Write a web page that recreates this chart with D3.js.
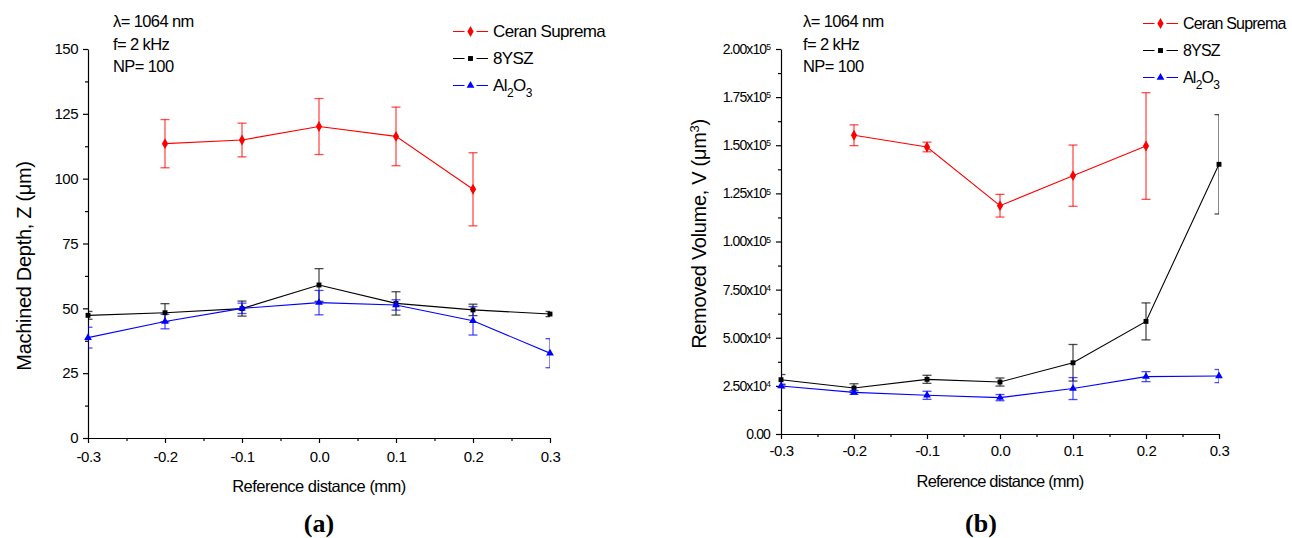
<!DOCTYPE html>
<html>
<head>
<meta charset="utf-8">
<script src="https://cdn.jsdelivr.net/npm/d3@7"></script>
<style>
  body { margin: 0; background: #fff; }
  svg { display: block; font-family: "Liberation Sans", Arial, sans-serif; }
  .tick text { font-family: "Liberation Sans", Arial, sans-serif; fill: #000; }
</style>
</head>
<body>
<svg id="chart" width="1292" height="538"></svg>
<script>
// reference positions along the beam axis (mm)
var xVals = [-0.3, -0.2, -0.1, 0.0, 0.1, 0.2, 0.3];
var xTicks = [-0.3, -0.2, -0.1, 0.0, 0.1, 0.2, 0.3];

// (a) machined depth, um
var depthCeran     = [null, 113.5, 114.9, 120.1, 116.3, 95.9, null];
var depthCeranErr  = [null, 9.3, 6.5, 10.8, 11.3, 14.1, null];
var depthYSZ       = [47.3, 48.3, 49.9, 59.0, 51.9, 49.4, 47.8];
var depthYSZErr    = [1.5, 3.5, 2.9, 6.3, 4.5, 2.2, 1.0];
var depthAl2O3     = [38.7, 44.9, 50.0, 52.2, 51.3, 45.2, 32.7];
var depthAl2O3Err  = [4.0, 2.8, 2.0, 4.7, 2.0, 5.5, 5.6];
var depthTicks = [0, 25, 50, 75, 100, 125, 150];

// (b) removed volume, um^3
var volCeran     = [null, 155200, 149100, 118600, 134200, 149600, null];
var volCeranErr  = [null, 5400, 2500, 5900, 15900, 27700, null];
var volYSZ       = [28200, 23900, 28400, 27000, 37000, 58500, 140100];
var volYSZErr    = [2700, 2200, 2100, 2100, 9500, 9600, 25800];
var volAl2O3     = [24900, 21600, 20100, 18900, 23600, 29800, 30100];
var volAl2O3Err  = [1000, 1000, 2100, 1600, 5700, 2600, 3400];
var volTicks = [0, 25000, 50000, 75000, 100000, 125000, 150000, 175000, 200000];

var seriesNames = ["Ceran Suprema", "8YSZ", "Al2O3"];
var seriesColors = ["#ff0000", "#000000", "#0000ff"];
var seriesShapes = [d3.symbolDiamond, d3.symbolSquare, d3.symbolTriangle];
var seriesSizes = [34, 24, 26];

var annotLines = ["\u03bb= 1064 nm", "f= 2 kHz", "NP= 100"];

var svg = d3.select("#chart");

function volFormat(v) {
	if (v == 0) return [{t: "0.00"}];
	var e = Math.floor(Math.log10(v));
	var m = v / Math.pow(10, e);
	return [{t: m.toFixed(2) + "x10"}, {t: String(e), sup: true}];
}

function xFormat(v) {
	return d3.format(".1f")(v).replace("\u2212", "-");
}

function drawPanel(p) {
	var x = d3.scaleLinear().domain([-0.3, 0.3]).range([p.left, p.right]);
	var y = d3.scaleLinear().domain(p.yDomain).range([p.bottom, p.top]);
	var g = svg.append("g");

	// minor ticks
	var xMinor = d3.range(-0.25, 0.3, 0.1);
	g.append("g")
		.attr("transform", "translate(0," + p.bottom + ")")
		.call(d3.axisBottom(x).tickValues(xMinor).tickSize(3).tickFormat(""))
		.call(function(s) { s.select(".domain").remove(); });
	var yMinor = p.yTicks.slice(1).map(function(t, i) { return (t + p.yTicks[i]) / 2; });
	g.append("g")
		.attr("transform", "translate(" + p.left + ",0)")
		.call(d3.axisLeft(y).tickValues(yMinor).tickSize(3).tickFormat(""))
		.call(function(s) { s.select(".domain").remove(); });

	// major axes
	var xa = g.append("g")
		.attr("transform", "translate(0," + p.bottom + ")")
		.call(d3.axisBottom(x).tickValues(xTicks).tickSize(5).tickSizeOuter(0).tickPadding(p.xPad)
			.tickFormat(xFormat));
	xa.selectAll("text").style("font-size", "15px").attr("letter-spacing", "-0.4px");

	var ya = g.append("g")
		.attr("transform", "translate(" + p.left + ",0)")
		.call(d3.axisLeft(y).tickValues(p.yTicks).tickSize(5).tickSizeOuter(0).tickPadding(p.yPad)
			.tickFormat(p.fmt ? "" : d3.format("d")));
	ya.selectAll("text").style("font-size", p.tickFont + "px");
	if (p.fmt) {
		ya.selectAll(".tick text").each(function(d) {
			var t = d3.select(this);
			volFormat(d).forEach(function(part) {
				var ts = t.append("tspan").text(part.t);
				if (part.sup) ts.attr("dy", "-0.45em").style("font-size", "8.5px");
			});
		}).attr("letter-spacing", "-0.9px");
	} else {
		ya.selectAll("text").attr("letter-spacing", "-0.5px");
	}
	g.selectAll(".domain, .tick line").attr("stroke", "#000").attr("stroke-width", 1.2);

	// axis titles
	g.append("text")
		.attr("x", (p.left + p.right) / 2).attr("y", p.xLabelY)
		.attr("text-anchor", "middle").style("font-size", "16.5px")
		.attr("letter-spacing", p.xLabelSpacing)
		.text("Reference distance (mm)");

	var yl = g.append("text")
		.attr("transform", "translate(" + p.yLabelX + "," + p.yLabelY + ") rotate(-90)")
		.attr("text-anchor", "middle").style("font-size", "20px")
		.attr("letter-spacing", "-0.3px");
	p.yLabel.forEach(function(part) {
		var ts = yl.append("tspan").text(part.t);
		if (part.sup) ts.attr("dy", "-0.55em").style("font-size", "13px");
		if (part.back) ts.attr("dy", "0.36em");
	});

	g.append("text")
		.attr("x", p.panelX).attr("y", 532)
		.attr("text-anchor", "middle")
		.style("font-family", "'Liberation Serif', 'Times New Roman', serif")
		.style("font-size", "26px").style("font-weight", "bold")
		.text(p.panelLabel);

	// annotations
	annotLines.forEach(function(s, i) {
		g.append("text").attr("x", p.annotX).attr("y", 27 + i * 22.5)
			.style("font-size", "16.5px").attr("letter-spacing", "-0.6px").text(s);
	});

	// clip so error caps at the ends are cut at the axis limits
	var clipId = "clip" + p.panelLabel.replace(/[()]/g, "");
	svg.append("clipPath").attr("id", clipId)
		.append("rect").attr("x", p.left).attr("y", p.top - 40)
		.attr("width", p.right - p.left).attr("height", p.bottom - p.top + 40);
	var plot = g.append("g").attr("clip-path", "url(#" + clipId + ")");

	p.series.forEach(function(s, k) {
		var pts = xVals.map(function(xv, i) { return {x: xv, v: s.vals[i], e: s.errs[i]}; })
			.filter(function(d) { return d.v != null; });
		var col = seriesColors[k];

		var eb = plot.append("g").attr("stroke", col).attr("stroke-opacity", 0.7).attr("stroke-width", 1.3);
		pts.forEach(function(d) {
			var cx = x(d.x), y1 = y(d.v + d.e), y2 = y(d.v - d.e);
			eb.append("line").attr("x1", cx).attr("x2", cx).attr("y1", y1).attr("y2", y2);
			eb.append("line").attr("x1", cx - 4.5).attr("x2", cx + 4.5).attr("y1", y1).attr("y2", y1);
			eb.append("line").attr("x1", cx - 4.5).attr("x2", cx + 4.5).attr("y1", y2).attr("y2", y2);
		});

		plot.append("path").datum(pts)
			.attr("fill", "none").attr("stroke", col).attr("stroke-width", 1.1)
			.attr("d", d3.line().x(function(d) { return x(d.x); }).y(function(d) { return y(d.v); }));

		g.selectAll(null).data(pts).enter().append("path")
			.attr("transform", function(d) { return "translate(" + x(d.x) + "," + y(d.v) + ")"; })
			.attr("d", d3.symbol().type(seriesShapes[k]).size(seriesSizes[k]))
			.attr("fill", col);
	});

	// legend
	seriesNames.forEach(function(name, k) {
		var ly = p.legendY + k * p.legendGap;
		var lg = g.append("g");
		lg.append("line").attr("x1", p.legendX).attr("x2", p.legendX + 35)
			.attr("y1", ly).attr("y2", ly).attr("stroke", seriesColors[k]).attr("stroke-width", 1);
		lg.append("line").attr("x1", p.legendX + 11.5).attr("x2", p.legendX + 23.5)
			.attr("y1", ly).attr("y2", ly).attr("stroke", "#fff").attr("stroke-width", 3);
		lg.append("path").attr("transform", "translate(" + (p.legendX + 17.5) + "," + ly + ")")
			.attr("d", d3.symbol().type(seriesShapes[k]).size(seriesSizes[k]))
			.attr("fill", seriesColors[k]);
		var t = lg.append("text").attr("x", p.legendX + 40).attr("y", ly + 5.5)
			.style("font-size", p.legendFont + "px").attr("letter-spacing", p.legendSpacing);
		if (name == "Al2O3") {
			t.append("tspan").text("Al");
			t.append("tspan").text("2").attr("dy", "6").style("font-size", "12px");
			t.append("tspan").text("O").attr("dy", "-6");
			t.append("tspan").text("3").attr("dy", "6").style("font-size", "12px");
		} else {
			t.text(name);
		}
	});
}

drawPanel({
	left: 88, right: 550, top: 49, bottom: 438,
	yDomain: [0, 150], yTicks: depthTicks, tickFont: 15, yPad: 5, xPad: 8,
	yLabel: [{t: "Machined Depth, Z  (\u03bcm)"}], yLabelX: 31, yLabelY: 266,
	xLabelY: 492, xLabelSpacing: "-0.5px",
	panelLabel: "(a)", panelX: 319, annotX: 113,
	legendX: 453, legendY: 31.5, legendGap: 27, legendFont: 17, legendSpacing: "-0.6px",
	series: [
		{vals: depthCeran, errs: depthCeranErr},
		{vals: depthYSZ, errs: depthYSZErr},
		{vals: depthAl2O3, errs: depthAl2O3Err}
	]
});

drawPanel({
	left: 781, right: 1219, top: 49, bottom: 434,
	yDomain: [0, 200000], yTicks: volTicks, tickFont: 14, fmt: true, yPad: 6, xPad: 6,
	yLabel: [{t: "Removed Volume, V (\u03bcm"}, {t: "3", sup: true}, {t: ")", back: true}],
	yLabelX: 706, yLabelY: 234,
	xLabelY: 487, xLabelSpacing: "-0.8px",
	panelLabel: "(b)", panelX: 981, annotX: 803,
	legendX: 1143, legendY: 23.5, legendGap: 27, legendFont: 16, legendSpacing: "-0.8px",
	series: [
		{vals: volCeran, errs: volCeranErr},
		{vals: volYSZ, errs: volYSZErr},
		{vals: volAl2O3, errs: volAl2O3Err}
	]
});
</script>
</body>
</html>
